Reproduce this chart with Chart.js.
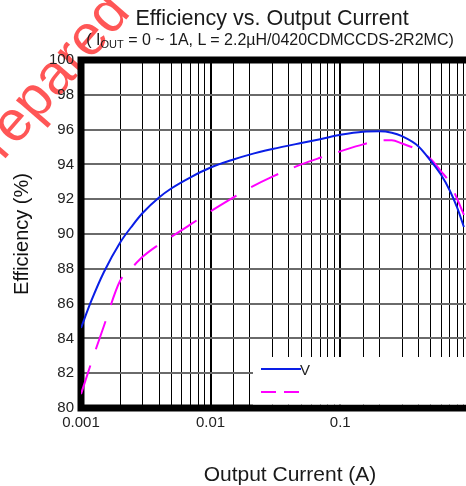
<!DOCTYPE html>
<html>
<head>
<meta charset="utf-8">
<script src="https://cdn.jsdelivr.net/npm/chart.js@4"></script>
<style>
  html, body { margin: 0; padding: 0; background: #fff; width: 466px; height: 486px; overflow: hidden; }
  #wrap { position: relative; width: 466px; height: 486px; overflow: hidden; }
  canvas { position: absolute; left: 0; top: 0; }
  .txt { position: absolute; white-space: nowrap; font-family: "Liberation Sans", Arial, sans-serif; color: #1a1a1a; transform: translate(-50%, -50%); line-height: 1; }
  #title { left: 272px; top: 19px; font-size: 21.5px; }
  #subtitle { left: 270px; top: 40px; font-size: 16px; }
  #subtitle sub { font-size: 11px; vertical-align: -3px; line-height: 0; }
  #xtitle { left: 290px; top: 473px; font-size: 21px; }
</style>
</head>
<body>
<div id="wrap">
  <canvas id="effChart" width="480" height="486"></canvas>
  <div class="txt" id="title">Efficiency vs. Output Current</div>
  <div class="txt" id="subtitle">( I<sub>OUT</sub> = 0 ~ 1A, L = 2.2µH/0420CDMCCDS-2R2MC)</div>
  <div class="txt" id="xtitle">Output Current (A)</div>
</div>
<script>
// output current (A) and efficiency (%) for the two traces
const outputCurrent = [0.001, 0.0012, 0.0015, 0.002, 0.0025, 0.003, 0.004, 0.005, 0.007, 0.01, 0.015, 0.02, 0.03, 0.05, 0.07, 0.1, 0.15, 0.2, 0.25, 0.3, 0.4, 0.5, 0.6, 0.7, 0.8, 0.9];
const effSolid = [84.6, 86.15, 87.8, 89.5, 90.5, 91.22, 92.1, 92.63, 93.26, 93.82, 94.28, 94.56, 94.88, 95.23, 95.45, 95.7, 95.88, 95.9, 95.82, 95.62, 95.05, 94.2, 93.4, 92.5, 91.5, 90.4];
const effDashed = [80.8, 82.6, 84.7, 87.3, 88.1, 88.7, 89.4, 89.85, 90.55, 91.3, 92.1, 92.65, 93.3, 94.0, 94.38, 94.75, 95.15, 95.37, 95.39, 95.2, 94.82, 94.3, 93.6, 92.95, 92.0, 91.1];
const seriesLabels = ["V", ""];

// axis ticks
const xTickValues = [0.001, 0.01, 0.1, 1];
const xTickLabels = ["0.001", "0.01", "0.1", "1"];
const yMin = 80, yMax = 100, yStep = 2;

const FONT = '"Liberation Sans", Arial, sans-serif';

function decadeIndex(v) {
  if (!v) return -1;
  return xTickValues.findIndex((t) => Math.abs(Math.log10(t) - Math.log10(v)) < 1e-6);
}

// -------------------- PLUGINS --------------------
const watermark = {
  id: "watermark",
  beforeDraw(chart) {
    const ctx = chart.ctx;
    ctx.save();
    ctx.translate(-22, 190);
    ctx.rotate(-49 * Math.PI / 180);
    ctx.font = "57px " + FONT;
    ctx.fillStyle = "rgba(255, 30, 30, 0.75)";
    ctx.fillText("Prepared", 0, 0);
    ctx.restore();
  },
};

const frame = {
  id: "frame",
  beforeDatasetsDraw(chart) {
    const { ctx, chartArea: a } = chart;
    ctx.save();
    ctx.strokeStyle = "#000";
    ctx.lineWidth = 7;
    ctx.strokeRect(a.left, a.top, a.right - a.left, a.bottom - a.top);
    ctx.restore();
  },
};

const insetLegend = {
  id: "insetLegend",
  afterDatasetsDraw(chart) {
    const { ctx, chartArea: a } = chart;
    const x0 = a.left + 172, y0 = a.bottom - 51;
    ctx.save();
    ctx.fillStyle = "#fff";
    ctx.fillRect(x0, y0, a.right + 10 - x0, a.bottom - 3.5 - y0);
    chart.data.datasets.forEach((ds, i) => {
      const y = y0 + 12 + i * 23;
      ctx.strokeStyle = ds.borderColor;
      ctx.lineWidth = ds.borderWidth;
      ctx.setLineDash(ds.borderDash ? [15, 8] : []);
      ctx.beginPath();
      ctx.moveTo(x0 + 8, y);
      ctx.lineTo(x0 + (ds.borderDash ? 46 : 48), y);
      ctx.stroke();
      if (ds.label) {
        ctx.setLineDash([]);
        ctx.fillStyle = "#222";
        ctx.font = "15px " + FONT;
        ctx.textBaseline = "middle";
        ctx.fillText(ds.label, x0 + 47, y + 1.5);
      }
    });
    ctx.restore();
  },
};

// -------------------- CHART --------------------
new Chart(document.getElementById("effChart"), {
  type: "line",
  data: {
    datasets: [
      {
        label: seriesLabels[0],
        data: outputCurrent.map((x, i) => ({ x, y: effSolid[i] })),
        borderColor: "#0a1ee6",
        borderWidth: 2,
        pointRadius: 0,
        cubicInterpolationMode: "monotone",
        fill: false,
      },
      {
        label: seriesLabels[1],
        data: outputCurrent.map((x, i) => ({ x, y: effDashed[i] })),
        borderColor: "#ff00ff",
        borderWidth: 2,
        borderDash: [30, 17],
        pointRadius: 0,
        cubicInterpolationMode: "monotone",
        fill: false,
      },
    ],
  },
  options: {
    responsive: false,
    animation: false,
    devicePixelRatio: 1,
    layout: { padding: { top: 60, right: 7, left: 0, bottom: 0 } },
    plugins: { legend: { display: false }, tooltip: { enabled: false } },
    scales: {
      x: {
        type: "logarithmic",
        min: 0.001,
        max: 1,
        afterFit: (s) => { s.height = 78; },
        border: { display: false },
        grid: {
          color: "#000",
          lineWidth: (c) => (c.tick && decadeIndex(c.tick.value) >= 0 ? 2 : 1),
          drawTicks: false,
        },
        ticks: {
          autoSkip: false,
          maxRotation: 0,
          padding: 6,
          color: "#222",
          font: { size: 15, family: FONT },
          callback: (v) => {
            const i = decadeIndex(v);
            return i >= 0 ? xTickLabels[i] : "";
          },
        },
      },
      y: {
        min: yMin,
        max: yMax,
        afterFit: (s) => { s.width = 81; },
        border: { display: false },
        grid: { color: "#6a6a6a", lineWidth: 2, drawTicks: false },
        ticks: { stepSize: yStep, padding: 7, color: "#222", font: { size: 15, family: FONT } },
        title: {
          display: true,
          text: "Efficiency (%)",
          color: "#111",
          font: { size: 20, family: FONT },
          padding: { top: 10, bottom: 0 },
        },
      },
    },
  },
  plugins: [watermark, frame, insetLegend],
});
</script>
</body>
</html>
